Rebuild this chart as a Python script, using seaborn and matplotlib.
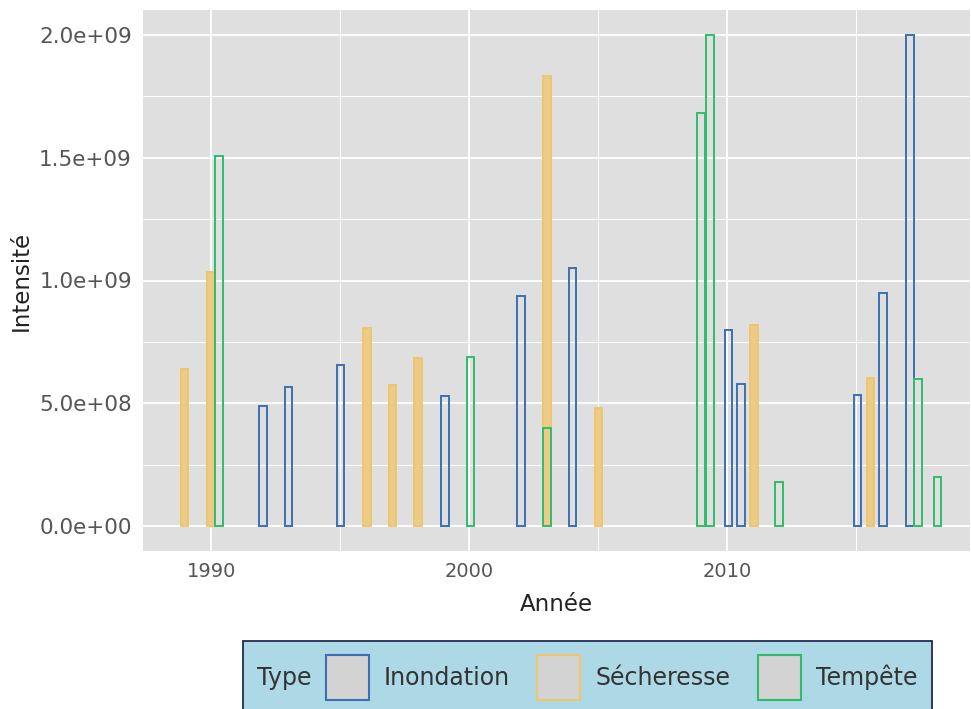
import matplotlib
matplotlib.use("Agg")
import matplotlib.pyplot as plt
from matplotlib.patches import Patch
from matplotlib.offsetbox import HPacker
from matplotlib.ticker import FixedLocator, FuncFormatter
import pandas as pd
import seaborn as sns

# ---- data (dates as decimal years) ----
types = ["Inondation", "Sécheresse", "Tempête"]
colors = ["#3d6fb3", "#eec66f", "#2fbd6c"]

inondation_year = [1992.0, 1993.0, 1995.0, 1999.05, 2002.0, 2004.0, 2010.05, 2010.53, 2015.05, 2016.03, 2017.08]
inondation_val = [4.9e8, 5.65e8, 6.55e8, 5.3e8, 9.35e8, 1.05e9, 8.0e8, 5.8e8, 5.35e8, 9.5e8, 2.0e9]

secheresse_year = [1988.97, 1989.97, 1996.03, 1997.03, 1998.01, 2003.0, 2005.0, 2011.03, 2015.54]
secheresse_val = [6.4e8, 1.035e9, 8.05e8, 5.75e8, 6.85e8, 1.83e9, 4.8e8, 8.2e8, 6.05e8]

tempete_year = [1990.3, 2000.04, 2003.0, 2008.98, 2009.33, 2012.0, 2017.38, 2018.15]
tempete_val = [1.505e9, 6.9e8, 4.0e8, 1.68e9, 2.0e9, 1.8e8, 6.0e8, 2.0e8]

df = pd.concat([
    pd.DataFrame({"Année": inondation_year, "Intensité": inondation_val, "Type": types[0]}),
    pd.DataFrame({"Année": secheresse_year, "Intensité": secheresse_val, "Type": types[1]}),
    pd.DataFrame({"Année": tempete_year, "Intensité": tempete_val, "Type": types[2]}),
], ignore_index=True)

# ---- style ----
sns.set_theme(style="darkgrid")
plt.rcParams["font.family"] = ["DejaVu Sans"]

fig = plt.figure(figsize=(9.71, 7.09), dpi=100)
ax = fig.add_axes([143 / 971, 1 - 551 / 709, 827 / 971, 541 / 709])
ax.set_facecolor("#dfdfdf")

sns.barplot(data=df, x="Année", y="Intensité", hue="Type", hue_order=types,
            palette=colors, native_scale=True, dodge=False, fill=False,
            errorbar=None, width=0.95, linewidth=1.4, legend=False, ax=ax)

# sécheresse bars look solid in the original
for bar in ax.containers[1]:
    bar.set_facecolor("#ebcb86")

ax.set_xlim(1987.35, 2019.4)
ax.set_ylim(-1e8, 2.1e9)
ax.xaxis.set_major_locator(FixedLocator([1990, 2000, 2010]))
ax.xaxis.set_minor_locator(FixedLocator([1995, 2005, 2015]))
ax.yaxis.set_major_locator(FixedLocator([0, 5e8, 1e9, 1.5e9, 2e9]))
ax.yaxis.set_minor_locator(FixedLocator([2.5e8, 7.5e8, 1.25e9, 1.75e9]))
ax.xaxis.set_major_formatter(FuncFormatter(lambda v, p: f"{v:.0f}"))
ax.yaxis.set_major_formatter(FuncFormatter(lambda v, p: f"{v:.1e}"))

ax.grid(which="major", color="white", linewidth=1.3)
ax.grid(which="minor", color="white", linewidth=0.7)
ax.set_axisbelow(True)
for s in ax.spines.values():
    s.set_visible(False)

ax.tick_params(which="major", length=4, width=1, color="#333333",
               labelcolor="#555555", pad=4)
ax.tick_params(axis="x", labelsize=14)
ax.tick_params(axis="y", labelsize=15.5)
ax.tick_params(which="minor", length=0)

ax.set_xlabel("Année", fontsize=16.5, color="#222222")
ax.set_ylabel("Intensité", fontsize=16.5, color="#222222")
ax.xaxis.set_label_coords(0.5, -0.078)
ax.yaxis.set_label_coords(-0.133, 0.5)

# ---- legend: title on the left, entries in a row ----
handles = [Patch(facecolor="#d3d3d3", edgecolor=c, linewidth=1.5) for c in colors]
leg = fig.legend(handles, types, title="Type", ncol=3, loc="upper left",
                 bbox_to_anchor=(243 / 971, 1 - 641 / 709), frameon=True,
                 fontsize=17, title_fontsize=17, handlelength=1.83, handleheight=2.55,
                 handletextpad=0.64, columnspacing=1.15, borderpad=0.6,
                 fancybox=False, borderaxespad=0)
frame = leg.get_frame()
frame.set_facecolor("#add8e6")
frame.set_edgecolor("#1f2b55")
frame.set_linewidth(1.3)
frame.set_alpha(1)
for t in leg.get_texts():
    t.set_color("#333333")
leg.get_title().set_color("#333333")

box = leg._legend_box
newbox = HPacker(pad=box.pad, sep=10, align="center",
                 children=[leg._legend_title_box, leg._legend_handle_box])
newbox.set_figure(fig)
leg._legend_box = newbox
newbox.set_offset(leg._findoffset)

fig.savefig("out.png", dpi=100)
